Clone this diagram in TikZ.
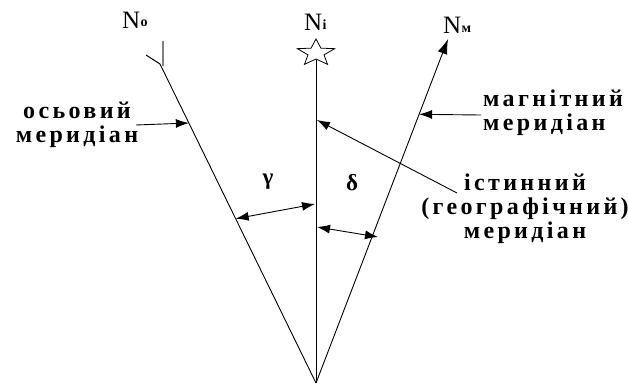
\documentclass[tikz,border=0pt]{standalone}
\usepackage{fontspec}
\setmainfont{Liberation Serif}
\usetikzlibrary{calc,arrows.meta}
\begin{document}
\begin{tikzpicture}[x=1pt,y=-1pt,
  ln/.style={line width=0.9pt,black},
  ptr/.style={line width=0.9pt,-{Latex[length=13pt,width=9pt]}},
  dbl/.style={line width=0.9pt,{Latex[length=13pt,width=9pt]}-{Latex[length=13pt,width=9pt]}},
  lbl/.style={font=\bfseries\fontsize{24}{24}\selectfont\addfontfeature{LetterSpace=14},align=center,inner sep=0pt},
  nlbl/.style={font=\fontsize{25}{25}\selectfont,inner sep=0pt,anchor=base west},
  sub/.style={font=\bfseries\fontsize{14}{14}\selectfont,inner sep=0pt,anchor=base west},
  greek/.style={font=\bfseries\fontsize{23}{23}\selectfont,inner sep=0pt}]
\useasboundingbox (0,0) rectangle (629,388);
% main geometry
\coordinate (O) at (316,383);
\coordinate (A) at (160,64);
\coordinate (M) at (448,39);
\coordinate (S) at (316,53);
\coordinate (Sb) at (316,60);
% star
\draw[line width=0.8pt,shift={(S)},xscale=1.4] (-90:14) -- (-54:6) -- (-18:14) -- (18:6) -- (54:14) -- (90:6) -- (126:14) -- (162:6) -- (198:14) -- (234:6) -- cycle;
% lines
\draw[ln] (O) -- (A);
\draw[ln] (O) -- (Sb);
\draw[ln,-{Latex[length=15pt,width=10pt]}] (O) -- (M);
% feather at top of axial line
\coordinate (F1) at (163,41);
\coordinate (F2) at (146,55);
\coordinate (F0) at (163,66);
\draw[line width=1.2pt,gray] (F0) -- (F1);
\draw[line width=1pt] (A) -- (F2);
% N labels
\node[nlbl] (No) at (122,28) {N};
\node[sub] (Nos) at ([yshift=1pt]No.base east) {o};
\node[nlbl] (Ni) at (304,30) {N};
\node[sub] (Nis) at ([yshift=1pt]Ni.base east) {і};
\node[nlbl] (Nm) at (443,33) {N};
\node[sub] (Nms) at ([yshift=1pt]Nm.base east) {м};
% labels
\node[lbl] (Lo) at (77,125) {осьовий\\меридіан};
\node[lbl,align=left,anchor=west] (Lm) at (483,113) {магнітний\\меридіан};
\node[lbl] (Li) at (525,209) {істинний\\(географічний)\\меридіан};
% pointer arrows
\coordinate (Po) at (136,125);
\coordinate (To) at ($(O)!0.815!(A)$);
\draw[ptr] (Po) -- (To);
\coordinate (Pm) at (481,115);
\coordinate (Tm) at ($(O)!0.781!(M)$);
\draw[ptr] (Pm) -- (Tm);
\coordinate (Pi) at (457,193);
\coordinate (Ti) at (317,120);
\draw[ptr] (Pi) -- (Ti);
% angle arrows
\coordinate (G1) at ($(O)!0.515!(A)$);
\coordinate (G2) at (315,204);
\draw[dbl] (G1) -- (G2);
\coordinate (D1) at (317,227);
\coordinate (D2) at (378,237);
\draw[dbl] (D1) -- (D2);
\node[greek] (g) at (268,182) {γ};
\node[greek] (d) at (352,183) {δ};
\end{tikzpicture}
\end{document}
